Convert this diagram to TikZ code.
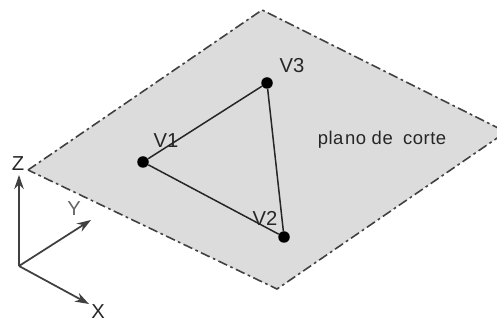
\documentclass[tikz,border=0pt]{standalone}
\usepackage{fontspec}
\setmainfont{Liberation Sans}
\usetikzlibrary{positioning,arrows.meta}
\definecolor{planegray}{HTML}{DCDCDC}
\definecolor{edgegray}{HTML}{404040}

\begin{document}
\begin{tikzpicture}[
    vertex/.style={circle, fill=black, inner sep=0pt, minimum size=0.23cm},
    edge/.style={line width=0.85pt, draw=black!85},
    axis/.style={-{Stealth[length=2.8mm,width=1.9mm]}, line width=1pt, draw=edgegray},
    label/.style={font=\fontsize{11.5}{13}\selectfont, text=black!85, inner sep=0pt}
]
\useasboundingbox (0,0) rectangle (9.94,6.42);

% Plane
\coordinate (pleft) at (0.56,3.02);
\coordinate (ptop) at (5.24,6.22);
\coordinate (pright) at (10.12,3.78);
\coordinate (pbottom) at (5.54,0.64);
\filldraw[fill=planegray, draw=edgegray, line width=0.9pt, dash pattern=on 5.5pt off 2pt on 1.5pt off 2pt]
    (pleft) -- (ptop) -- (pright) -- (pbottom) -- cycle;

% Triangle
\node[vertex] (v1) at (2.86,3.18) {};
\node[vertex] (v2) at (5.68,1.68) {};
\node[vertex] (v3) at (5.34,4.76) {};
\draw[edge] (v1) -- (v3);
\draw[edge] (v3) -- (v2);
\draw[edge] (v2) -- (v1);

\node[label] (lv1) at (3.32,3.60) {V1};
\node[label] (lv2) at (5.30,2.06) {V2};
\node[label] (lv3) at (5.84,5.10) {V3};
\node[label, font=\fontsize{10.5}{13}\selectfont] (plano) at (7.64,3.62) {p\kern0.3pt l\kern0.3pt a\kern0.9pt n\kern0.3pt o\kern0.3pt\ d\kern0.3pt e\ \ c\kern0.3pt o\kern0.3pt r\kern0.3pt t\kern0.3pt e};

% Axes
\coordinate (origin) at (0.38,1.10);
\coordinate (ztip) at (0.38,2.92);
\coordinate (ytip) at (1.82,2.02);
\coordinate (xtip) at (1.78,0.34);
\draw[axis, line width=1.3pt] (origin) -- (ztip);
\draw[axis] (origin) -- (ytip);
\draw[axis] (origin) -- (xtip);

\node[label] (lz) at (0.36,3.14) {Z};
\node[label, text=black!60] (ly) at (1.48,2.24) {Y};
\node[label] (lx) at (1.96,0.19) {X};
\end{tikzpicture}
\end{document}
